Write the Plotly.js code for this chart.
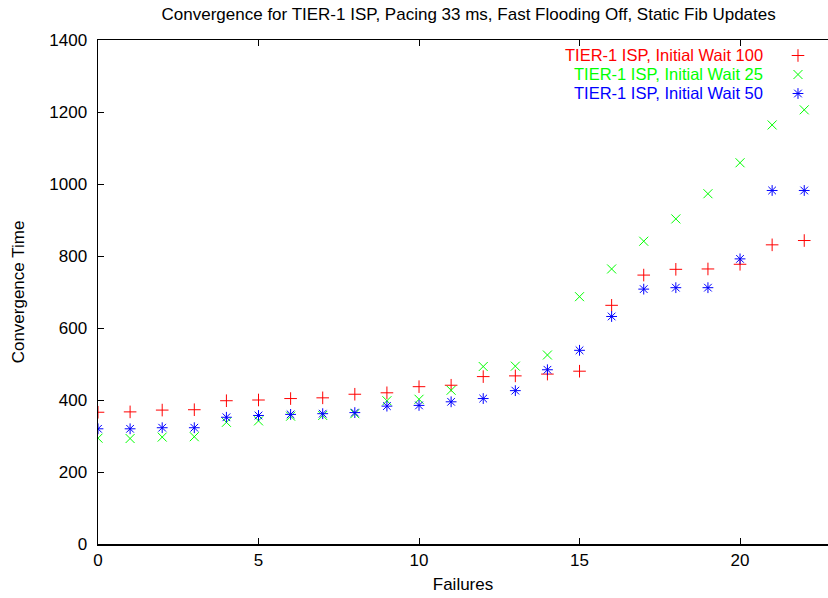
<!DOCTYPE html>
<html>
<head>
<meta charset="utf-8">
<script src="https://cdn.plot.ly/plotly-3.0.1.min.js"></script>
<style>html,body{margin:0;padding:0;background:#fff;}#chart{width:828px;height:598px;}</style>
</head>
<body>
<div id="chart"></div>
<script>
const failures = [0,1,2,3,4,5,6,7,8,9,10,11,12,13,14,15,16,17,18,19,20,21,22];
const wait100 = [366,367,372,373,398,400,404,406,416,420,437,441,465,467,472,480,663,747,763,764,777,831,843];
const wait25  = [294,293,297,298,338,342,355,357,362,398,402,427,493,494,525,687,764,841,903,973,1059,1164,1206];
const wait50  = [320,320,323,323,352,357,360,362,365,383,385,395,404,426,484,538,632,708,712,712,792,982,982];
const seriesNames = ["TIER-1 ISP, Initial Wait 100","TIER-1 ISP, Initial Wait 25","TIER-1 ISP, Initial Wait 50"];
const seriesColors = ["#ff0000","#00ff00","#0000ff"];
const seriesSymbols = ["cross-thin-open","x-thin-open","asterisk-open"];
const seriesValues = [wait100, wait25, wait50];
const xTicks = [0,5,10,15,20];
const yTicks = [0,200,400,600,800,1000,1200,1400];

const font = "Liberation Sans, Arial, sans-serif";
const traces = seriesValues.map((v,i)=>({
  x: failures, y: v, type: "scatter", mode: "markers", name: "",
  marker: {symbol: seriesSymbols[i], size: 9, color: seriesColors[i], line: {color: seriesColors[i], width: 1}},
  hoverinfo: "skip"
}));
const rowY = [0.9702, 0.9325, 0.8948];
const annotations = seriesNames.map((n,i)=>({
  text: n, xref: "paper", yref: "paper", x: 0.913, y: rowY[i],
  xanchor: "right", yanchor: "middle", showarrow: false, borderpad: 0,
  font: {family: font, size: 16.5, color: seriesColors[i]}
}));
const layout = {
  width: 828, height: 598,
  margin: {l: 98, r: 0, t: 40, b: 54, autoexpand: false},
  paper_bgcolor: "#fff", plot_bgcolor: "#fff",
  font: {family: font, size: 17, color: "#000"},
  title: {text: "Convergence for TIER-1 ISP, Pacing 33 ms, Fast Flooding Off, Static Fib Updates",
          x: 0.566, xanchor: "center", y: 0.977, yanchor: "middle", font: {family: font, size: 17, color: "#000"}},
  xaxis: {range: [0, 22.74], tickvals: xTicks, ticktext: xTicks.map(String), ticks: "inside", ticklen: 6,
          tickcolor: "#000", showline: true, linecolor: "#000", linewidth: 1.5, mirror: "ticks",
          showgrid: false, zeroline: false, automargin: false,
          title: {text: "Failures", standoff: 9, font: {family: font, size: 17}}},
  yaxis: {range: [0, 1400], tickvals: yTicks, ticktext: yTicks.map(String), ticks: "inside", ticklen: 6,
          tickcolor: "#000", showline: true, linecolor: "#000", linewidth: 1.5, mirror: false,
          showgrid: false, zeroline: false, ticklabelstandoff: 6, automargin: false,
          title: {text: "Convergence Time", standoff: 20, font: {family: font, size: 17}}},
  showlegend: true,
  legend: {x: 0.9315, y: 0.998, xanchor: "left", yanchor: "top", bgcolor: "rgba(0,0,0,0)",
           font: {family: font, size: 12}, tracegroupgap: 0, itemwidth: 30},
  annotations: annotations
};
Plotly.newPlot("chart", traces, layout, {displayModeBar: false, staticPlot: true});
</script>
</body>
</html>
